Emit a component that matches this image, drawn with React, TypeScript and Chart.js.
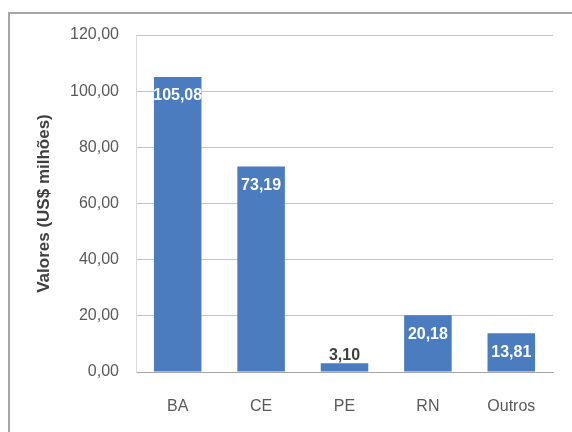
import React, { useEffect, useRef } from "react";
import { Chart, registerables } from "chart.js";

Chart.register(...registerables);

const categories = ["BA", "CE", "PE", "RN", "Outros"];
const values = [105.08, 73.19, 3.1, 20.18, 13.81];
const yTitle = "Valores (US$ milhões)";
const yMin = 0;
const yMax = 120;
const yStep = 20;

const fmt = (v: number) => v.toFixed(2).replace(".", ",");

const FONT = "'Liberation Sans', Arial, sans-serif";

const frame = {
  id: "frame",
  beforeDraw(chart: any) {
    const ctx = chart.ctx;
    ctx.save();
    ctx.fillStyle = "#ffffff";
    ctx.fillRect(0, 0, chart.width, chart.height);
    ctx.strokeStyle = "#a6a6a6";
    ctx.lineWidth = 2;
    ctx.strokeRect(9, 13, chart.width + 20, chart.height + 20);
    ctx.restore();
  },
};

const labels = {
  id: "valueLabels",
  afterDatasetsDraw(chart: any) {
    const ctx = chart.ctx;
    const meta = chart.getDatasetMeta(0);
    ctx.save();
    ctx.font = `bold 16px ${FONT}`;
    ctx.textAlign = "center";
    ctx.textBaseline = "middle";
    meta.data.forEach((bar: any, i: number) => {
      const v = values[i];
      const h = bar.base - bar.y;
      if (h > 30) {
        ctx.fillStyle = "#ffffff";
        ctx.fillText(fmt(v), bar.x, bar.y + 19);
      } else {
        ctx.fillStyle = "#404040";
        ctx.fillText(fmt(v), bar.x, bar.y - 8);
      }
    });
    ctx.restore();
  },
};

export default function App() {
  const ref = useRef<HTMLCanvasElement | null>(null);
  useEffect(() => {
    if (!ref.current) return;
    const chart = new Chart(ref.current, {
      type: "bar",
      data: {
        labels: categories,
        datasets: [
          {
            data: values,
            backgroundColor: "#4a7cbf",
            borderWidth: 0,
            categoryPercentage: 1,
            barPercentage: 0.57,
          },
        ],
      },
      options: {
        animation: false,
        responsive: false,
        maintainAspectRatio: false,
        layout: { padding: { left: 0, top: 35, right: 19, bottom: 0 } },
        plugins: {
          legend: { display: false },
          tooltip: { enabled: false },
        },
        scales: {
          x: {
            grid: { display: false, drawTicks: false },
            border: { display: true, color: "#a6a6a6" },
            ticks: {
              color: "#595959",
              font: { family: FONT, size: 16 },
              padding: 25,
            },
            afterFit(scale: any) {
              scale.height = 60;
            },
          },
          y: {
            min: yMin,
            max: yMax,
            grid: { color: "#c4c4c4", drawTicks: false },
            border: { display: true, color: "#d9d9d9" },
            ticks: {
              stepSize: yStep,
              color: "#595959",
              font: { family: FONT, size: 16 },
              padding: 17,
              callback: (v: any) => fmt(Number(v)),
            },
            title: {
              display: true,
              text: yTitle,
              color: "#404040",
              font: { family: FONT, size: 17, weight: "bold" },
              padding: { top: 34, bottom: 0 },
            },
            afterFit(scale: any) {
              scale.width = 136;
            },
          },
        },
      },
      plugins: [frame, labels],
    });
    return () => chart.destroy();
  }, []);
  return (
    <div style={{ position: "absolute", left: 0, top: 0, width: 572, height: 432 }}>
      <canvas ref={ref} width={572} height={432} style={{ display: "block" }} />
    </div>
  );
}
